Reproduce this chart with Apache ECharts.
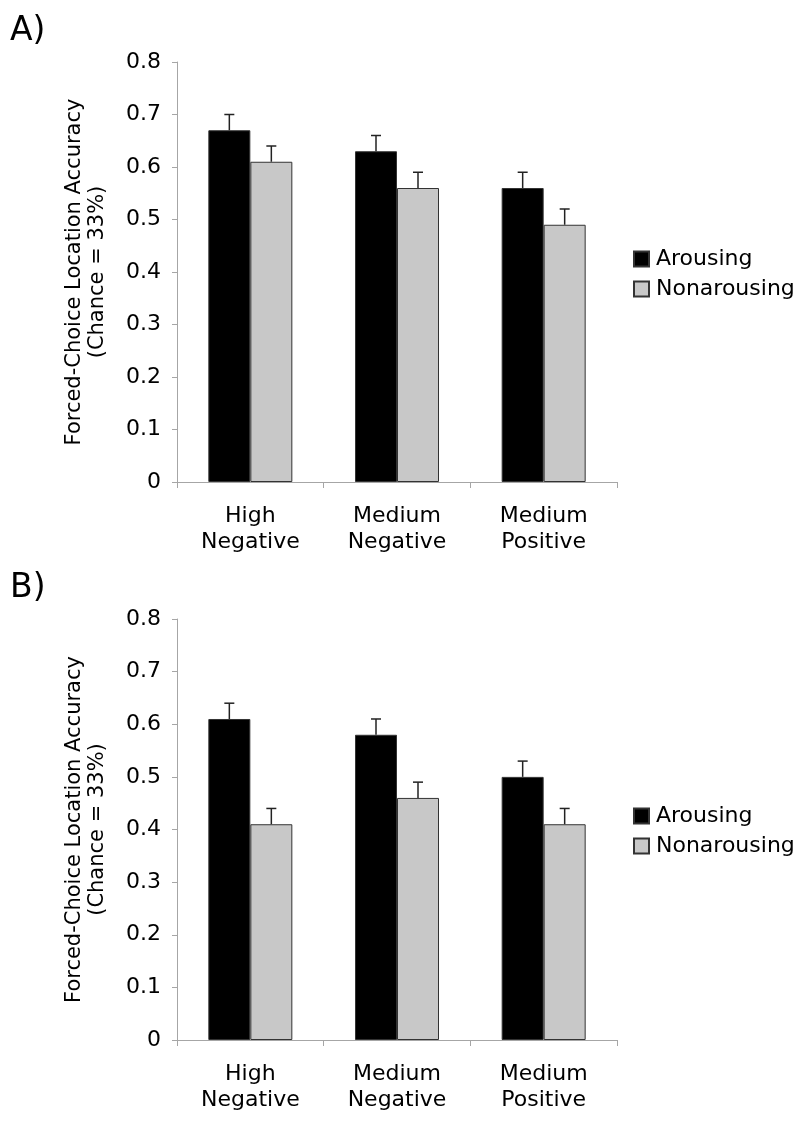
<!DOCTYPE html>
<html>
<head>
<meta charset="utf-8">
<script src="https://cdn.jsdelivr.net/npm/echarts@6/dist/echarts.min.js"></script>
<style>
  html, body { margin: 0; padding: 0; background: #fff; }
  #chart { width: 800px; height: 1122px; }
</style>
</head>
<body>
<div id="chart"></div>
<script>
// categories (two-line labels)
var categories = ['High\nNegative', 'Medium\nNegative', 'Medium\nPositive']
var yTicks = [0, 0.1, 0.2, 0.3, 0.4, 0.5, 0.6, 0.7, 0.8]

// panel A
var arousingA = [0.67, 0.63, 0.56]
var nonarousingA = [0.61, 0.56, 0.49]
var arousingErrA = [0.03, 0.03, 0.03]
var nonarousingErrA = [0.03, 0.03, 0.03]

// panel B
var arousingB = [0.61, 0.58, 0.50]
var nonarousingB = [0.41, 0.46, 0.41]
var arousingErrB = [0.03, 0.03, 0.03]
var nonarousingErrB = [0.03, 0.03, 0.03]

var FONT = 'DejaVu Sans, Verdana, sans-serif'
var BAR_W = 42

function errData(vals, errs) {
  return vals.map(function(v, i) { return [i, v, errs[i]] })
}

function errorRender(offset) {
  return function(params, api) {
    var base = api.coord([api.value(0), api.value(1)])
    var top = api.coord([api.value(0), api.value(1) + api.value(2)])
    var x = base[0] + offset
    var style = { stroke: '#222', lineWidth: 1.5 }
    return {
      type: 'group',
      children: [
        { type: 'line', shape: { x1: x, y1: base[1], x2: x, y2: top[1] }, style: style },
        { type: 'line', shape: { x1: x - 5, y1: top[1], x2: x + 5, y2: top[1] }, style: style }
      ]
    }
  }
}

function xAxis(gridIndex) {
  return {
    type: 'category',
    gridIndex: gridIndex,
    data: categories,
    axisLine: { lineStyle: { color: '#a6a6a6', width: 1 } },
    axisTick: { show: true, length: 6, lineStyle: { color: '#a6a6a6' } },
    axisLabel: { color: '#000', fontSize: 22, fontFamily: FONT, lineHeight: 26, margin: 21 }
  }
}

function yAxis(gridIndex) {
  return {
    type: 'value',
    gridIndex: gridIndex,
    min: yTicks[0],
    max: yTicks[yTicks.length - 1],
    interval: 0.1,
    name: 'Forced-Choice Location Accuracy\n(Chance = 33%)',
    nameLocation: 'middle',
    nameRotate: 90,
    nameGap: 68,
    nameTextStyle: { color: '#000', fontSize: 21, fontFamily: FONT, lineHeight: 23 },
    axisLine: { show: true, lineStyle: { color: '#a6a6a6', width: 1 } },
    axisTick: { show: true, length: 5, lineStyle: { color: '#a6a6a6' } },
    axisLabel: { color: '#000', fontSize: 22, fontFamily: FONT, margin: 16 },
    splitLine: { show: false }
  }
}

function barSeries(name, data, axisIndex, color) {
  return {
    name: name,
    type: 'bar',
    xAxisIndex: axisIndex,
    yAxisIndex: axisIndex,
    data: data,
    barWidth: BAR_W,
    barGap: '0%',
    itemStyle: { color: color, borderColor: '#333', borderWidth: 1 },
    z: 2
  }
}

function errSeries(vals, errs, axisIndex, offset) {
  return {
    type: 'custom',
    xAxisIndex: axisIndex,
    yAxisIndex: axisIndex,
    data: errData(vals, errs),
    renderItem: errorRender(offset),
    z: 5,
    silent: true
  }
}

function legend(top) {
  return {
    left: 633,
    top: top,
    padding: 0,
    orient: 'vertical',
    icon: 'rect',
    itemWidth: 15,
    itemHeight: 15,
    itemGap: 8,
    textStyle: { color: '#000', fontSize: 22, lineHeight: 22, fontFamily: FONT, padding: [0, 0, 0, 2] },
    data: ['Arousing', 'Nonarousing']
  }
}

var chart = echarts.init(document.getElementById('chart'))
chart.setOption({
  animation: false,
  backgroundColor: '#fff',
  graphic: [
    { type: 'text', left: 10, top: 15, style: { text: 'A)', fontSize: 33, fontFamily: FONT, fill: '#000' } },
    { type: 'text', left: 10, top: 572, style: { text: 'B)', fontSize: 33, fontFamily: FONT, fill: '#000' } }
  ],
  legend: [legend(248), legend(805)],
  grid: [
    { left: 177, top: 62, width: 440, height: 420 },
    { left: 177, top: 619, width: 440, height: 421 }
  ],
  xAxis: [xAxis(0), xAxis(1)],
  yAxis: [yAxis(0), yAxis(1)],
  series: [
    barSeries('Arousing', arousingA, 0, '#000'),
    barSeries('Nonarousing', nonarousingA, 0, '#c8c8c8'),
    errSeries(arousingA, arousingErrA, 0, -BAR_W / 2),
    errSeries(nonarousingA, nonarousingErrA, 0, BAR_W / 2),
    barSeries('Arousing', arousingB, 1, '#000'),
    barSeries('Nonarousing', nonarousingB, 1, '#c8c8c8'),
    errSeries(arousingB, arousingErrB, 1, -BAR_W / 2),
    errSeries(nonarousingB, nonarousingErrB, 1, BAR_W / 2)
  ]
})
</script>
</body>
</html>
